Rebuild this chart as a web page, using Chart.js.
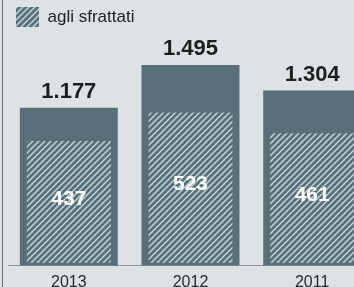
<!DOCTYPE html>
<html>
<head>
<meta charset="utf-8">
<script src="https://cdn.jsdelivr.net/npm/chart.js@4/dist/chart.umd.min.js"></script>
<style>
  html, body { margin: 0; padding: 0; background: #dde2e5; overflow: hidden; width: 354px; height: 287px; }
  #wrap { position: absolute; left: 0; top: 0; width: 380px; height: 299px; }
  #edge { position: absolute; left: 2px; top: 0; width: 1px; height: 287px; background: #6f7478; }
</style>
</head>
<body>
<div id="wrap"><canvas id="c" width="380" height="299"></canvas></div>
<div id="edge"></div>
<script>
const categories = ['2013', '2012', '2011'];
const totals = [1177, 1495, 1304];
const evictions = [437, 523, 461];
const seriesLabels = ['totale', 'agli sfrattati'];

const BAR = '#57707a';
const FONT = '"Liberation Sans", Arial, Helvetica, sans-serif';

function makeHatch() {
  const c = document.createElement('canvas');
  c.width = 6; c.height = 6;
  const g = c.getContext('2d');
  g.fillStyle = BAR; g.fillRect(0, 0, 6, 6);
  g.strokeStyle = '#c8d7db'; g.lineWidth = 1.4;
  g.beginPath();
  g.moveTo(-1, 7); g.lineTo(7, -1);
  g.moveTo(-1, 1); g.lineTo(1, -1);
  g.moveTo(5, 7); g.lineTo(7, 5);
  g.stroke();
  return g.createPattern(c, 'repeat');
}
const hatch = makeHatch();

function fmt(v) { return String(v).replace(/\B(?=(\d{3})+(?!\d))/g, '.'); }

const labelPlugin = {
  id: 'valueLabels',
  afterDatasetsDraw(chart) {
    const ctx = chart.ctx;
    const bottom = chart.chartArea.bottom - 3;
    ctx.save();
    ctx.textAlign = 'center';
    const outer = chart.getDatasetMeta(0);
    ctx.font = 'bold 22px ' + FONT;
    ctx.fillStyle = '#1e1e1e';
    ctx.textBaseline = 'alphabetic';
    outer.data.forEach((el, i) => {
      ctx.fillText(fmt(totals[i]), el.x, el.y - 10);
    });
    const inner = chart.getDatasetMeta(1);
    ctx.font = 'bold 21px ' + FONT;
    ctx.fillStyle = '#ffffff';
    ctx.textBaseline = 'middle';
    inner.data.forEach((el, i) => {
      const b = Math.min(el.base, bottom);
      ctx.fillText(fmt(evictions[i]), el.x, (el.y + b) / 2 - 3);
    });
    ctx.restore();
  }
};

new Chart(document.getElementById('c'), {
  type: 'bar',
  data: {
    labels: categories,
    datasets: [
      {
        label: seriesLabels[0], data: totals, yAxisID: 'y',
        backgroundColor: BAR, borderWidth: 0,
        barPercentage: 0.805, categoryPercentage: 1, grouped: false, order: 1
      },
      {
        label: seriesLabels[1], data: evictions, yAxisID: 'y2',
        backgroundColor: hatch, borderColor: BAR, borderWidth: 0,
        clip: { left: false, top: false, right: false, bottom: -3 },
        barPercentage: 0.69, categoryPercentage: 1, grouped: false, order: 0
      }
    ]
  },
  options: {
    responsive: false,
    devicePixelRatio: 1,
    animation: false,
    events: [],
    layout: { padding: { left: 8, right: 7, top: -1, bottom: 0 } },
    plugins: {
      tooltip: { enabled: false },
      legend: {
        position: 'top', align: 'start',
        labels: {
          boxWidth: 23, boxHeight: 20, padding: 8,
          color: '#222222', font: { family: FONT, size: 17 },
          filter: (item) => item.datasetIndex === 1
        }
      }
    },
    scales: {
      x: {
        offset: true,
        grid: { display: false, drawTicks: false },
        border: { display: true, color: '#8c969b', width: 1 },
        ticks: { color: '#2b2b2b', padding: 7, font: { family: FONT, size: 16 } }
      },
      y: { display: false, min: 0, max: 1703 },
      y2: { display: false, min: 61, max: 751 }
    }
  },
  plugins: [labelPlugin]
});
</script>
</body>
</html>
